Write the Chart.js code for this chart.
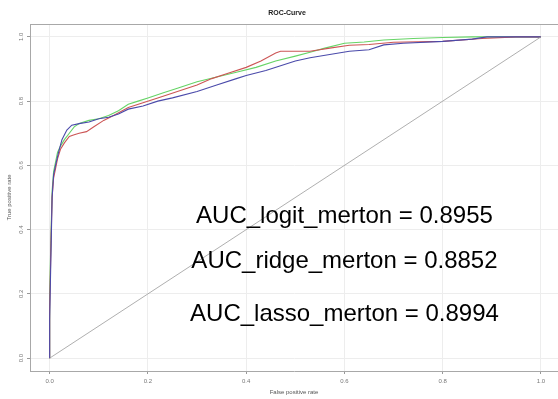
<!DOCTYPE html>
<html>
<head>
<meta charset="utf-8">
<script src="https://cdn.jsdelivr.net/npm/chart.js@4.4.1/dist/chart.umd.min.js"></script>
<style>
    html, body { margin: 0; padding: 0; background: #fff; overflow: hidden; }
    #rocChart { display: block; }
</style>
</head>
<body>
<canvas id="rocChart" width="558" height="399"></canvas>
<script>
/* ==========================================================================
   DATA
   ========================================================================== */
const fprLogit = [0, 0, 0.003, 0.005, 0.008, 0.012, 0.016, 0.022, 0.03, 0.04, 0.05, 0.06, 0.075, 0.09, 0.11, 0.13, 0.16, 0.19, 0.22, 0.26, 0.30, 0.33, 0.36, 0.40, 0.43, 0.46, 0.47, 0.53, 0.57, 0.61, 0.65, 0.70, 0.80, 0.88, 0.95, 1.0];
const tprLogit = [0, 0.15, 0.38, 0.50, 0.56, 0.59, 0.62, 0.65, 0.67, 0.69, 0.695, 0.70, 0.705, 0.72, 0.74, 0.755, 0.78, 0.795, 0.81, 0.83, 0.85, 0.87, 0.885, 0.905, 0.925, 0.95, 0.955, 0.955, 0.965, 0.974, 0.976, 0.983, 0.986, 0.995, 1.0, 1.0];

const fprRidge = [0, 0, 0.003, 0.005, 0.008, 0.012, 0.018, 0.025, 0.035, 0.045, 0.06, 0.08, 0.10, 0.12, 0.14, 0.16, 0.19, 0.22, 0.25, 0.30, 0.34, 0.38, 0.40, 0.44, 0.47, 0.50, 0.53, 0.57, 0.61, 0.65, 0.68, 0.72, 0.80, 0.86, 0.89, 1.0];
const tprRidge = [0, 0.12, 0.35, 0.50, 0.57, 0.60, 0.64, 0.68, 0.71, 0.725, 0.73, 0.735, 0.745, 0.75, 0.76, 0.775, 0.785, 0.80, 0.81, 0.83, 0.85, 0.87, 0.88, 0.895, 0.91, 0.925, 0.935, 0.945, 0.955, 0.96, 0.975, 0.98, 0.986, 0.993, 1.0, 1.0];

const fprLasso = [0, 0, 0.003, 0.005, 0.008, 0.012, 0.016, 0.022, 0.03, 0.04, 0.05, 0.06, 0.08, 0.10, 0.12, 0.14, 0.16, 0.18, 0.20, 0.23, 0.26, 0.30, 0.34, 0.38, 0.42, 0.46, 0.50, 0.53, 0.56, 0.60, 0.64, 0.68, 0.74, 0.80, 0.86, 1.0];
const tprLasso = [0, 0.20, 0.40, 0.52, 0.58, 0.61, 0.64, 0.66, 0.68, 0.70, 0.72, 0.73, 0.74, 0.745, 0.755, 0.77, 0.79, 0.80, 0.81, 0.825, 0.84, 0.86, 0.875, 0.89, 0.905, 0.925, 0.94, 0.952, 0.965, 0.98, 0.984, 0.99, 0.995, 0.998, 1.0, 1.0];

const diagX = [0, 1];
const diagY = [0, 1];

const axisTicks = [0, 0.2, 0.4, 0.6, 0.8, 1.0];

const aucLabels = ["AUC_logit_merton = 0.8955", "AUC_ridge_merton = 0.8852", "AUC_lasso_merton = 0.8994"];
const aucLabelX = [0.6, 0.6, 0.6];
const aucLabelY = [0.44, 0.30, 0.137];

/* ==========================================================================
   HELPERS
   ========================================================================== */
function toPoints(xs, ys) {
    return xs.map((x, i) => ({ x: x, y: ys[i] }));
}

function useFixedTicks(scale) {
    scale.ticks = axisTicks.map(v => ({ value: v }));
}

/* ==========================================================================
   PLUGIN: frame top line, rotated y tick labels, title, AUC annotations
   ========================================================================== */
const rocDecorations = {
    id: "rocDecorations",
    afterDraw(chart) {
        const ctx = chart.ctx;
        const area = chart.chartArea;
        const yScale = chart.scales.y;
        const xScale = chart.scales.x;

        ctx.save();

        // top edge of the box
        ctx.strokeStyle = "#a8a8a8";
        ctx.lineWidth = 1;
        ctx.beginPath();
        ctx.moveTo(area.left, area.top + 0.5);
        ctx.lineTo(area.right, area.top + 0.5);
        ctx.stroke();

        // y tick labels, rotated like R's default las = 0
        ctx.fillStyle = "#777";
        ctx.font = "6px 'Liberation Sans', Arial, sans-serif";
        ctx.textAlign = "center";
        ctx.textBaseline = "middle";
        yScale.ticks.forEach(t => {
            const py = yScale.getPixelForValue(t.value);
            ctx.save();
            ctx.translate(21, py);
            ctx.rotate(-Math.PI / 2);
            ctx.fillText(t.value.toFixed(1), 0, 0);
            ctx.restore();
        });

        // title
        ctx.fillStyle = "#222";
        ctx.font = "bold 7px 'Liberation Sans', Arial, sans-serif";
        ctx.fillText("ROC-Curve", 287, 13);

        // AUC annotations
        ctx.fillStyle = "#000";
        ctx.font = "24px 'Liberation Sans', Arial, sans-serif";
        aucLabels.forEach((label, i) => {
            ctx.fillText(label, xScale.getPixelForValue(aucLabelX[i]), yScale.getPixelForValue(aucLabelY[i]));
        });

        ctx.restore();
    }
};

/* ==========================================================================
   CHART
   ========================================================================== */
function lineSet(label, xs, ys, color, width) {
    return {
        label: label,
        data: toPoints(xs, ys),
        borderColor: color,
        borderWidth: width,
        pointRadius: 0,
        tension: 0,
        fill: false,
        showLine: true
    };
}

const ctx = document.getElementById("rocChart").getContext("2d");
const rocChart = new Chart(ctx, {
    type: "scatter",
    data: {
        datasets: [
            lineSet("diagonal", diagX, diagY, "#9a9a9a", 0.8),
            lineSet("ridge", fprRidge, tprRidge, "#4a4aaa", 1.1),
            lineSet("logit", fprLogit, tprLogit, "#cc5555", 1.1),
            lineSet("lasso", fprLasso, tprLasso, "#66d466", 1.1)
        ]
    },
    options: {
        responsive: false,
        animation: false,
        layout: { padding: { top: 24, right: 0, left: 0, bottom: 0 } },
        plugins: {
            legend: { display: false },
            tooltip: { enabled: false }
        },
        scales: {
            x: {
                type: "linear",
                min: -0.04,
                max: 1.0346,
                afterBuildTicks: useFixedTicks,
                afterFit(scale) { scale.height = 28; },
                grid: { color: "#ededed", tickColor: "#999", tickLength: 3 },
                border: { display: true, color: "#a8a8a8" },
                ticks: {
                    color: "#777",
                    padding: 4,
                    maxRotation: 0,
                    font: { size: 6, family: "'Liberation Sans', Arial, sans-serif" },
                    callback: v => v.toFixed(1)
                },
                title: {
                    display: true,
                    text: "False positive rate",
                    color: "#555",
                    padding: { top: 0, bottom: 3 },
                    font: { size: 6, family: "'Liberation Sans', Arial, sans-serif" }
                }
            },
            y: {
                type: "linear",
                min: -0.04,
                max: 1.04,
                afterBuildTicks: useFixedTicks,
                afterFit(scale) { scale.width = 30; },
                grid: { color: "#ededed", tickColor: "#999", tickLength: 3 },
                border: { display: true, color: "#a8a8a8" },
                ticks: { display: false },
                title: {
                    display: true,
                    text: "True positive rate",
                    color: "#555",
                    padding: { top: 6, bottom: 0 },
                    font: { size: 6, family: "'Liberation Sans', Arial, sans-serif" }
                }
            }
        }
    },
    plugins: [rocDecorations]
});
</script>
</body>
</html>
